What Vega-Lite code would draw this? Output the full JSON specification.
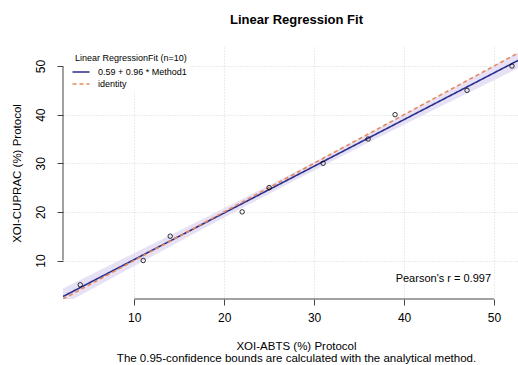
{
  "$schema": "https://vega.github.io/schema/vega-lite/v6.json",
  "width": 455,
  "height": 252,
  "autosize": {"type": "none"},
  "padding": {"left": 63, "top": 47, "right": 0, "bottom": 66},
  "background": "white",
  "title": {
    "text": "Linear Regression Fit",
    "font": "Liberation Sans",
    "fontSize": 13,
    "fontWeight": "bold",
    "color": "black",
    "anchor": "middle",
    "dx": 6,
    "baseline": "alphabetic",
    "offset": 10
  },
  "config": {
    "view": {"stroke": null},
    "font": "Liberation Sans",
    "axis": {
      "domain": false,
      "grid": true,
      "gridDash": [1, 2],
      "gridColor": "#d6d6d6",
      "gridWidth": 1,
      "tickColor": "#444444",
      "tickSize": 6,
      "labelFont": "Liberation Sans",
      "labelFontSize": 12,
      "labelColor": "black",
      "titleFont": "Liberation Sans",
      "titleFontWeight": "normal",
      "titleFontSize": 11.5,
      "titleColor": "black"
    },
    "legend": {
      "orient": "none",
      "legendX": 12,
      "legendY": 7,
      "titleFont": "Liberation Sans",
      "titleFontSize": 9,
      "titleFontWeight": "normal",
      "titleColor": "black",
      "labelFont": "Liberation Sans",
      "labelFontSize": 9,
      "labelColor": "black",
      "symbolType": "M-1.7,0H1.7",
      "symbolStrokeWidth": 1.5,
      "symbolSize": 100,
      "rowPadding": 1,
      "titlePadding": 3,
      "labelOffset": 11
    }
  },
  "datasets": {
    "points": [
      {"x": 4, "y": 5}, {"x": 11, "y": 10}, {"x": 14, "y": 15}, {"x": 22, "y": 20},
      {"x": 25, "y": 25}, {"x": 31, "y": 30}, {"x": 36, "y": 35}, {"x": 39, "y": 40},
      {"x": 47, "y": 45}, {"x": 52, "y": 50}
    ],
    "band": [
      {"x": 2.08, "lo": 0.91, "hi": 4.26},
      {"x": 8, "lo": 6.87, "hi": 9.67},
      {"x": 14, "lo": 12.88, "hi": 15.18},
      {"x": 20, "lo": 18.84, "hi": 20.74},
      {"x": 28.1, "lo": 26.73, "hi": 28.4},
      {"x": 36, "lo": 34.21, "hi": 36.09},
      {"x": 44, "lo": 41.61, "hi": 44.05},
      {"x": 52.67, "lo": 49.55, "hi": 52.76}
    ],
    "lines": [
      {"series": "0.59 + 0.96 * Method1", "x": 2.08, "y": 2.59},
      {"series": "0.59 + 0.96 * Method1", "x": 52.67, "y": 51.15},
      {"series": "identity", "x": 2.08, "y": 2.08},
      {"series": "identity", "x": 52.67, "y": 52.67}
    ]
  },
  "layer": [
    {
      "data": {"name": "band"},
      "mark": {"type": "area", "color": "#e6e1f5", "opacity": 1, "clip": true},
      "encoding": {
        "x": {
          "field": "x", "type": "quantitative",
          "scale": {"domain": [2.08, 52.67], "nice": false, "zero": false},
          "axis": {
            "values": [10, 20, 30, 40, 50],
            "labelPadding": 7,
            "title": ["XOI-ABTS (%) Protocol", "The 0.95-confidence bounds are calculated with the analytical method."],
            "titleX": 233,
            "titleY": 41,
            "titleAlign": "center",
            "titleBaseline": "top",
            "titleLineHeight": 12
          }
        },
        "y": {
          "field": "lo", "type": "quantitative",
          "scale": {"domain": [2.08, 53.92], "nice": false, "zero": false},
          "axis": {
            "values": [10, 20, 30, 40, 50],
            "labelAngle": -90,
            "labelAlign": "center",
            "labelBaseline": "bottom",
            "labelPadding": 10,
            "title": "XOI-CUPRAC (%) Protocol",
            "titleAngle": -90,
            "titleX": -46,
            "titleY": 126,
            "titleAlign": "center",
            "titleBaseline": "middle"
          }
        },
        "y2": {"field": "hi"}
      }
    },
    {
      "data": {"values": [{}]},
      "mark": {"type": "rect", "color": "white"},
      "encoding": {
        "x": {"datum": 2.08, "type": "quantitative"},
        "x2": {"datum": 16.2},
        "y": {"datum": 44.65, "type": "quantitative"},
        "y2": {"datum": 53.92}
      }
    },
    {
      "data": {"name": "lines"},
      "mark": {"type": "line", "strokeWidth": 1.6, "clip": true},
      "encoding": {
        "x": {"field": "x", "type": "quantitative"},
        "y": {"field": "y", "type": "quantitative"},
        "color": {
          "field": "series", "type": "nominal",
          "scale": {"domain": ["0.59 + 0.96 * Method1", "identity"], "range": ["#2b2f8f", "#e8885a"]},
          "legend": {"title": "Linear RegressionFit (n=10)"}
        },
        "strokeDash": {
          "field": "series", "type": "nominal",
          "scale": {"domain": ["0.59 + 0.96 * Method1", "identity"], "range": [[1, 0], [4, 3]]},
          "legend": {"title": "Linear RegressionFit (n=10)"}
        },
        "order": {"field": "series", "sort": "descending"}
      }
    },
    {
      "data": {"name": "points"},
      "mark": {"type": "point", "shape": "circle", "filled": false, "color": "black", "size": 20, "strokeWidth": 0.8, "opacity": 1},
      "encoding": {
        "x": {"field": "x", "type": "quantitative"},
        "y": {"field": "y", "type": "quantitative"}
      }
    },
    {
      "data": {"values": [{}]},
      "mark": {"type": "rule", "color": "#444444", "strokeWidth": 1},
      "encoding": {
        "x": {"datum": 10, "type": "quantitative"},
        "x2": {"datum": 50},
        "y": {"datum": 2.08, "type": "quantitative"}
      }
    },
    {
      "data": {"values": [{}]},
      "mark": {"type": "rule", "color": "#444444", "strokeWidth": 1},
      "encoding": {
        "x": {"datum": 2.08, "type": "quantitative"},
        "y": {"datum": 10, "type": "quantitative"},
        "y2": {"datum": 50}
      }
    },
    {
      "data": {"values": [{}]},
      "mark": {"type": "text", "text": "Pearson's r = 0.997", "align": "right", "baseline": "middle", "font": "Liberation Sans", "fontSize": 11, "color": "black"},
      "encoding": {
        "x": {"datum": 49.67, "type": "quantitative"},
        "y": {"datum": 6.15, "type": "quantitative"}
      }
    }
  ]
}
